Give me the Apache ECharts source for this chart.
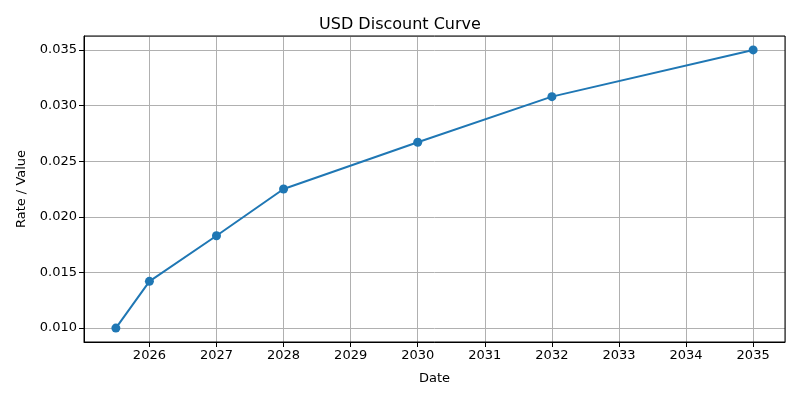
<!DOCTYPE html>
<html>
<head>
<meta charset="utf-8">
<script src="https://cdn.jsdelivr.net/npm/echarts@6/dist/echarts.min.js"></script>
<style>
html, body { margin: 0; padding: 0; background: #fff; }
#chart { width: 800px; height: 400px; }
</style>
</head>
<body>
<div id="chart"></div>
<script>
// curve points, dates as fractional years
var dates = [2025.5, 2026, 2027, 2028, 2030, 2032, 2035];
var rates = [0.0100, 0.0142, 0.0183, 0.0225, 0.0267, 0.0308, 0.0350];

var points = dates.map(function (d, i) { return [d, rates[i]]; });

var myChart = echarts.init(document.getElementById('chart'));
var font = 'DejaVu Sans';

option = {
    backgroundColor: '#fff',
    animation: false,
    title: {
        text: 'USD Discount Curve',
        left: 'center',
        top: 12,
        textStyle: { fontFamily: font, fontSize: 16, fontWeight: 'normal', color: '#000' }
    },
    grid: { left: 84, right: 15, top: 36, bottom: 58, show: true, borderColor: '#000', borderWidth: 1, z: 5 },
    xAxis: {
        type: 'value',
        name: 'Date',
        nameLocation: 'middle',
        nameGap: 30,
        nameTextStyle: { fontFamily: font, fontSize: 13, color: '#000' },
        min: 2025.025,
        max: 2035.475,
        minInterval: 1,
        maxInterval: 1,
        axisLine: { show: true, lineStyle: { color: '#000' } },
        axisTick: { show: true, length: 5, lineStyle: { color: '#000' } },
        axisLabel: {
            fontFamily: font, fontSize: 13, color: '#000', margin: 7,
            showMinLabel: false, showMaxLabel: false,
            formatter: function (v) { return Math.abs(v - Math.round(v)) < 1e-6 ? String(Math.round(v)) : ''; }
        },
        splitLine: { show: true, lineStyle: { color: '#b0b0b0', width: 1 } }
    },
    yAxis: {
        type: 'value',
        name: 'Rate / Value',
        nameLocation: 'middle',
        nameGap: 56,
        nameTextStyle: { fontFamily: font, fontSize: 13, color: '#000' },
        min: 0.00875,
        max: 0.03625,
        minInterval: 0.005,
        maxInterval: 0.005,
        axisLine: { show: true, lineStyle: { color: '#000' } },
        axisTick: { show: true, length: 5, lineStyle: { color: '#000' } },
        axisLabel: {
            fontFamily: font, fontSize: 13, color: '#000', margin: 7,
            showMinLabel: false, showMaxLabel: false,
            formatter: function (v) { return v.toFixed(3); }
        },
        splitLine: { show: true, lineStyle: { color: '#b0b0b0', width: 1 } }
    },
    series: [{
        type: 'line',
        data: points,
        color: '#1f77b4',
        lineStyle: { width: 2 },
        symbol: 'circle',
        symbolSize: 9,
        showAllSymbol: true
    }]
};

myChart.setOption(option);
</script>
</body>
</html>
